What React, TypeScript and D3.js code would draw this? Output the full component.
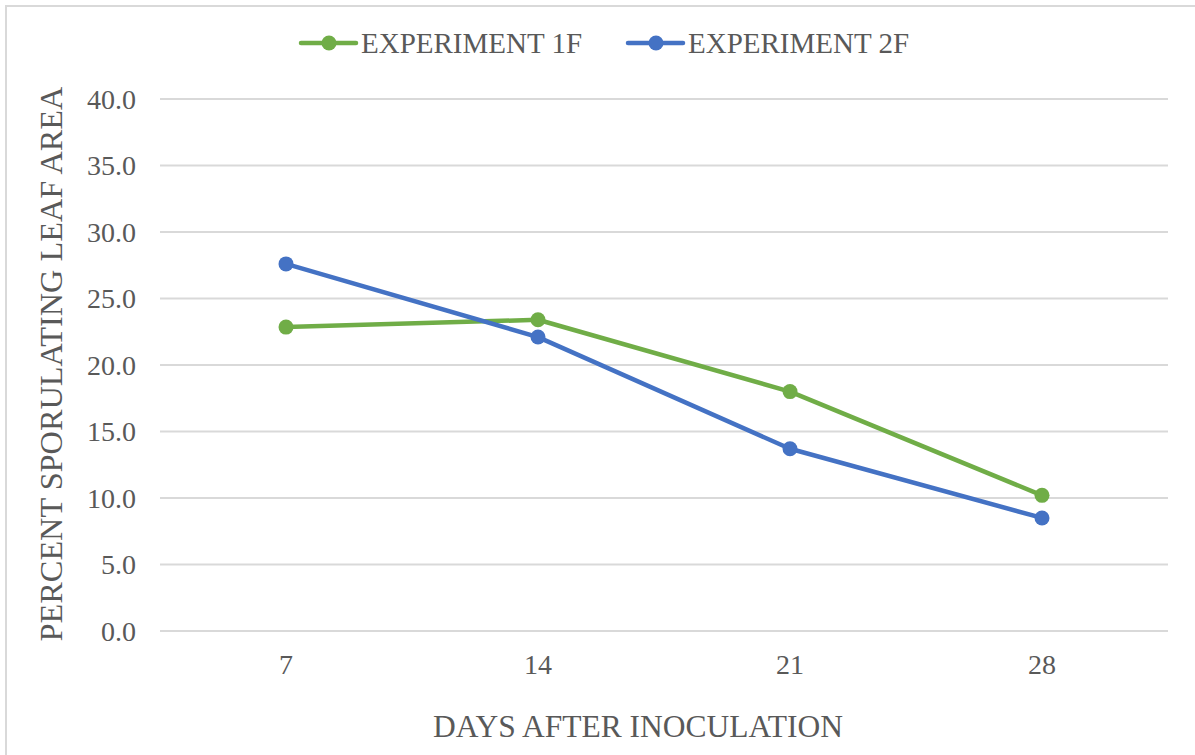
import React from "react";
import * as d3 from "d3";

const categories = ["7", "14", "21", "28"];
const experiment1F = [22.85, 23.4, 18.0, 10.2];
const experiment2F = [27.6, 22.1, 13.7, 8.5];
const yTicks = [0, 5, 10, 15, 20, 25, 30, 35, 40];
const seriesNames = ["EXPERIMENT 1F", "EXPERIMENT 2F"];
const seriesColors = ["#70AD47", "#4472C4"];

const W = 1195;
const H = 755;
const FONT = "'Liberation Serif', 'Times New Roman', serif";
const TEXT = "#595959";

export default function App() {
  const x = d3.scaleBand<string>().domain(categories).range([160, 1168]);
  const y = d3.scaleLinear().domain([0, 40]).range([631, 99]);
  const cx = (c: string) => (x(c) as number) + x.bandwidth() / 2;
  const line = d3
    .line<number>()
    .x((_, i) => cx(categories[i]))
    .y((d) => y(d));
  const series = [experiment1F, experiment2F];
  const legendX = [301, 628];

  return (
    <svg
      width={W}
      height={H}
      style={{ position: "absolute", left: 0, top: 0, background: "#fff" }}
      fontFamily={FONT}
    >
      <rect x={0} y={0} width={W} height={H} fill="#fff" />
      <rect x={6} y={6} width={W + 10} height={H + 10} fill="none" stroke="#D9D9D9" strokeWidth={2} />
      {yTicks.map((t) => (
        <g key={t}>
          <line x1={160} x2={1168} y1={y(t)} y2={y(t)} stroke="#D9D9D9" strokeWidth={2} />
          <text x={136} y={y(t) + 9.5} textAnchor="end" fontSize={28} fill={TEXT}>
            {t.toFixed(1)}
          </text>
        </g>
      ))}
      {categories.map((c) => (
        <text key={c} x={cx(c)} y={674} textAnchor="middle" fontSize={28} fill={TEXT}>
          {c}
        </text>
      ))}
      <text x={638} y={737} textAnchor="middle" fontSize={31.5} fill={TEXT}>
        DAYS AFTER INOCULATION
      </text>
      <text
        transform={`translate(62,364) rotate(-90)`}
        textAnchor="middle"
        fontSize={32.3}
        fill={TEXT}
      >
        PERCENT SPORULATING LEAF AREA
      </text>
      {series.map((s, si) => (
        <g key={si}>
          <path d={line(s) || ""} fill="none" stroke={seriesColors[si]} strokeWidth={4.5} strokeLinejoin="round" strokeLinecap="round" />
          {s.map((v, i) => (
            <circle key={i} cx={cx(categories[i])} cy={y(v)} r={7.5} fill={seriesColors[si]} />
          ))}
        </g>
      ))}
      {seriesNames.map((n, i) => (
        <g key={n}>
          <line x1={legendX[i]} x2={legendX[i] + 55} y1={43} y2={43} stroke={seriesColors[i]} strokeWidth={4.5} strokeLinecap="round" />
          <circle cx={legendX[i] + 28} cy={43} r={7.5} fill={seriesColors[i]} />
          <text x={legendX[i] + 60} y={53} fontSize={29} fill={TEXT}>
            {n}
          </text>
        </g>
      ))}
    </svg>
  );
}
